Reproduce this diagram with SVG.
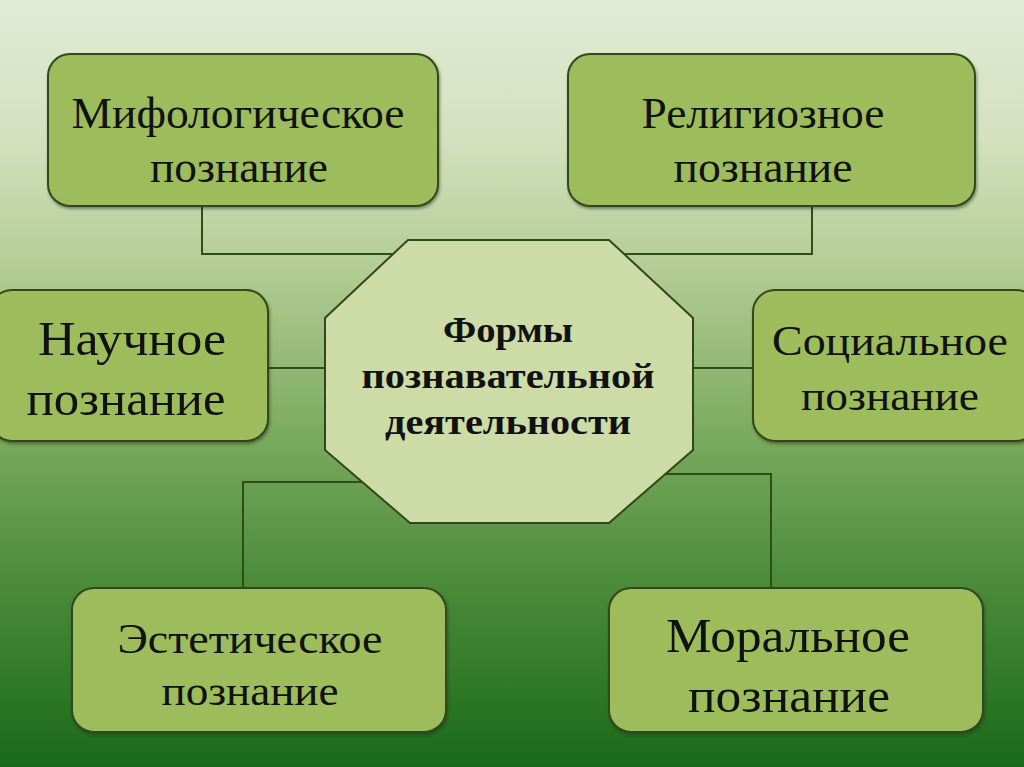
<svg xmlns="http://www.w3.org/2000/svg" width="1024" height="767" viewBox="0 0 1024 767">
<defs>
<linearGradient id="bg" x1="0" y1="0" x2="0" y2="1">
<stop offset="0" stop-color="#e1ebd4"/>
<stop offset="0.18" stop-color="#d3e1bf"/>
<stop offset="0.35" stop-color="#b3cc94"/>
<stop offset="0.55" stop-color="#7fad61"/>
<stop offset="0.75" stop-color="#4d8d3b"/>
<stop offset="1" stop-color="#1a6a1a"/>
</linearGradient>
<filter id="sh" x="-5%" y="-5%" width="110%" height="115%">
<feDropShadow dx="1" dy="2" stdDeviation="1.5" flood-color="#1f3310" flood-opacity="0.5"/>
</filter>
</defs>
<style>
.box{fill:#9dbc5b;stroke:#34461d;stroke-width:2;filter:url(#sh)}
.oct{fill:#cddca6;stroke:#34461d;stroke-width:2}
.lbl{font-family:"Liberation Serif","Times New Roman",serif;fill:#111;text-anchor:middle}
.ctr{font-family:"Liberation Serif","Times New Roman",serif;font-weight:bold;fill:#111;text-anchor:middle;font-size:36px}
.con{fill:none;stroke:#2e4f17;stroke-width:2}
</style>
<rect width="1024" height="767" fill="url(#bg)"/>
<g id="connectors">
<polyline class="con" points="202,206 202,254 394,254"/>
<polyline class="con" points="812,206 812,254 624,254"/>
<line class="con" x1="268" y1="368" x2="326" y2="368"/>
<line class="con" x1="692" y1="368" x2="754" y2="368"/>
<polyline class="con" points="243,588 243,482 364,482"/>
<polyline class="con" points="771,588 771,474 656,474"/>
</g>
<g id="center">
<polygon class="oct" points="408,240 609,240 693,318 693,450 609,523 410,523 325,450 325,318"/>
<text class="ctr" x="508" y="342" textLength="130" lengthAdjust="spacingAndGlyphs">Формы</text>
<text class="ctr" x="508" y="388" textLength="293" lengthAdjust="spacingAndGlyphs">познавательной</text>
<text class="ctr" x="508" y="434" textLength="246" lengthAdjust="spacingAndGlyphs">деятельности</text>
</g>
<g id="myth">
<rect class="box" x="48" y="54" width="390" height="152" rx="22"/>
<text class="lbl" x="238" y="128" font-size="44" textLength="333" lengthAdjust="spacingAndGlyphs">Мифологическое</text>
<text class="lbl" x="239" y="182" font-size="44" textLength="178" lengthAdjust="spacingAndGlyphs">познание</text>
</g>
<g id="relig">
<rect class="box" x="568" y="54" width="407" height="152" rx="22"/>
<text class="lbl" x="763" y="128" font-size="44" textLength="243" lengthAdjust="spacingAndGlyphs">Религиозное</text>
<text class="lbl" x="763" y="182" font-size="44" textLength="179" lengthAdjust="spacingAndGlyphs">познание</text>
</g>
<g id="sci">
<rect class="box" x="-10" y="290" width="278" height="151" rx="22"/>
<text class="lbl" x="132" y="355" font-size="48" textLength="188" lengthAdjust="spacingAndGlyphs">Научное</text>
<text class="lbl" x="126" y="415" font-size="48" textLength="199" lengthAdjust="spacingAndGlyphs">познание</text>
</g>
<g id="soc">
<rect class="box" x="753" y="290" width="285" height="151" rx="22"/>
<text class="lbl" x="890" y="355" font-size="42" textLength="236" lengthAdjust="spacingAndGlyphs">Социальное</text>
<text class="lbl" x="890" y="410" font-size="42" textLength="178" lengthAdjust="spacingAndGlyphs">познание</text>
</g>
<g id="aest">
<rect class="box" x="72" y="588" width="374" height="144" rx="22"/>
<text class="lbl" x="250" y="653" font-size="42" textLength="265" lengthAdjust="spacingAndGlyphs">Эстетическое</text>
<text class="lbl" x="250" y="705" font-size="42" textLength="177" lengthAdjust="spacingAndGlyphs">познание</text>
</g>
<g id="moral">
<rect class="box" x="609" y="588" width="374" height="144" rx="22"/>
<text class="lbl" x="788" y="652" font-size="48" textLength="244" lengthAdjust="spacingAndGlyphs">Моральное</text>
<text class="lbl" x="789" y="712" font-size="48" textLength="202" lengthAdjust="spacingAndGlyphs">познание</text>
</g>
</svg>
